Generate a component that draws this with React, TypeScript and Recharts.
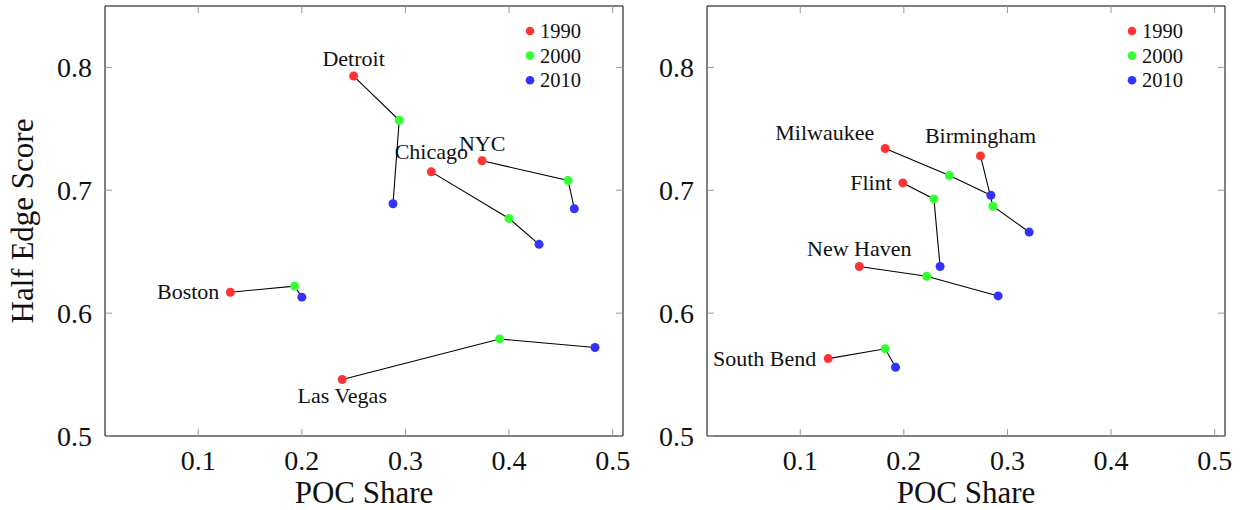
import { ScatterChart, Scatter, XAxis, YAxis, Label } from 'recharts'

const FONT = '"Liberation Serif", "Times New Roman", serif'

const YEARS = ['1990', '2000', '2010']
const YEAR_COLORS = ['#ff3333', '#33ff33', '#3333ff']

const X_TICKS = [0.1, 0.2, 0.3, 0.4, 0.5]
const Y_TICKS = [0.5, 0.6, 0.7, 0.8]

// left panel: large cities
const LEFT_CITIES = ['Detroit', 'Chicago', 'NYC', 'Boston', 'Las Vegas']
const LEFT_POC_1990 = [0.25, 0.325, 0.374, 0.131, 0.239]
const LEFT_POC_2000 = [0.294, 0.4, 0.457, 0.193, 0.391]
const LEFT_POC_2010 = [0.288, 0.429, 0.463, 0.2, 0.483]
const LEFT_SCORE_1990 = [0.793, 0.715, 0.724, 0.617, 0.546]
const LEFT_SCORE_2000 = [0.757, 0.677, 0.708, 0.622, 0.579]
const LEFT_SCORE_2010 = [0.689, 0.656, 0.685, 0.613, 0.572]

// right panel: smaller cities
const RIGHT_CITIES = ['Milwaukee', 'Birmingham', 'Flint', 'New Haven', 'South Bend']
const RIGHT_POC_1990 = [0.182, 0.274, 0.199, 0.157, 0.127]
const RIGHT_POC_2000 = [0.244, 0.286, 0.229, 0.222, 0.182]
const RIGHT_POC_2010 = [0.284, 0.321, 0.235, 0.291, 0.192]
const RIGHT_SCORE_1990 = [0.734, 0.728, 0.706, 0.638, 0.563]
const RIGHT_SCORE_2000 = [0.712, 0.687, 0.693, 0.63, 0.571]
const RIGHT_SCORE_2010 = [0.696, 0.666, 0.638, 0.614, 0.556]

// where each city name sits relative to its 1990 dot
const LABEL_POS: Record<string, { dx: number; dy: number; anchor: 'start' | 'middle' | 'end' }> = {
  Detroit: { dx: 0, dy: -10, anchor: 'middle' },
  Chicago: { dx: 0, dy: -13, anchor: 'middle' },
  NYC: { dx: 0, dy: -10, anchor: 'middle' },
  Boston: { dx: -11, dy: 7, anchor: 'end' },
  'Las Vegas': { dx: 0, dy: 24, anchor: 'middle' },
  Milwaukee: { dx: -11, dy: -9, anchor: 'end' },
  Birmingham: { dx: 0, dy: -13, anchor: 'middle' },
  Flint: { dx: -11, dy: 7, anchor: 'end' },
  'New Haven': { dx: 0, dy: -10, anchor: 'middle' },
  'South Bend': { dx: -12, dy: 7, anchor: 'end' },
}

type Pt = { city: string; poc: number; score: number }

function makeDot(color: string, withLabel: boolean) {
  return (props: any) => {
    const { cx, cy, payload } = props
    const pos = LABEL_POS[payload.city]
    return (
      <g>
        <circle cx={cx} cy={cy} r={4.5} fill={color} />
        {withLabel && pos && (
          <text
            x={cx + pos.dx}
            y={cy + pos.dy}
            textAnchor={pos.anchor}
            fontSize={22}
            fontFamily={FONT}
            fill="#111"
          >
            {payload.city}
          </text>
        )}
      </g>
    )
  }
}

function YearLegend({ left }: { left: number }) {
  return (
    <svg width={80} height={90} style={{ position: 'absolute', left, top: 16 }}>
      {YEARS.map((y, i) => (
        <g key={y}>
          <circle cx={8} cy={15 + i * 24.6} r={4.3} fill={YEAR_COLORS[i]} />
          <text x={18} y={22 + i * 24.6} fontSize={20.5} fontFamily={FONT} fill="#111">
            {y}
          </text>
        </g>
      ))}
    </svg>
  )
}

const noLabel = () => <g />

interface PanelProps {
  cities: string[]
  poc: number[][]
  score: number[][]
  width: number
  yAxisWidth: number
  marginRight: number
  showYTitle: boolean
}

function Panel({ cities, poc, score, width, yAxisWidth, marginRight, showYTitle }: PanelProps) {
  const byYear: Pt[][] = YEARS.map((_, k) =>
    cities.map((c, i) => ({ city: c, poc: poc[k][i], score: score[k][i] }))
  )
  const paths: Pt[][] = cities.map((c, i) =>
    YEARS.map((_, k) => ({ city: c, poc: poc[k][i], score: score[k][i] }))
  )
  const tickStyle = { fill: '#111', fontSize: 28, fontFamily: FONT }

  return (
    <ScatterChart width={width} height={510} margin={{ top: 5, right: marginRight - 1, bottom: 0, left: 0 }}>
      <XAxis
        type="number"
        dataKey="poc"
        domain={[0.01, 0.51]}
        ticks={X_TICKS}
        allowDataOverflow
        height={74}
        tickSize={-7}
        tickMargin={21}
        tick={tickStyle}
        tickLine={{ stroke: '#999' }}
        axisLine={{ stroke: '#000' }}
        tickFormatter={(v: number) => v.toFixed(1)}
      >
        <Label value="POC Share" position="insideBottom" offset={7} fontSize={31} fontFamily={FONT} fill="#111" />
      </XAxis>
      <XAxis
        xAxisId="top"
        orientation="top"
        type="number"
        dataKey="poc"
        domain={[0.01, 0.51]}
        ticks={X_TICKS}
        allowDataOverflow
        height={1}
        tickSize={-7}
        tick={noLabel}
        tickLine={{ stroke: '#999' }}
        axisLine={{ stroke: '#000' }}
      />
      <YAxis
        type="number"
        dataKey="score"
        domain={[0.5, 0.85]}
        ticks={Y_TICKS}
        allowDataOverflow
        width={yAxisWidth}
        tickSize={-7}
        tickMargin={20}
        tick={tickStyle}
        tickLine={{ stroke: '#999' }}
        axisLine={{ stroke: '#000' }}
        tickFormatter={(v: number) => v.toFixed(1)}
      >
        {showYTitle && (
          <Label
            content={(p: any) => {
              const vb = p.viewBox || { x: 0, y: 6, height: 430 }
              const cx = vb.x + 22
              const cy = vb.y + vb.height / 2
              return (
                <text
                  x={cx}
                  y={cy}
                  transform={`rotate(-90, ${cx}, ${cy})`}
                  textAnchor="middle"
                  dominantBaseline="central"
                  fontSize={31}
                  fontFamily={FONT}
                  fill="#111"
                >
                  Half Edge Score
                </text>
              )
            }}
          />
        )}
      </YAxis>
      <YAxis
        yAxisId="right"
        orientation="right"
        type="number"
        dataKey="score"
        domain={[0.5, 0.85]}
        ticks={Y_TICKS}
        allowDataOverflow
        width={1}
        tickSize={-7}
        tick={noLabel}
        tickLine={{ stroke: '#999' }}
        axisLine={{ stroke: '#000' }}
      />
      {/* connecting lines go on the mirrored axes (same domains) so those axes get drawn */}
      {paths.map((d) => (
        <Scatter
          key={'line-' + d[0].city}
          data={d}
          xAxisId="top"
          yAxisId="right"
          line={{ stroke: '#000', strokeWidth: 1.1 }}
          shape={() => <g />}
          isAnimationActive={false}
        />
      ))}
      {byYear.map((d, k) => (
        <Scatter
          key={YEARS[k]}
          name={YEARS[k]}
          data={d}
          fill={YEAR_COLORS[k]}
          shape={makeDot(YEAR_COLORS[k], k === 0)}
          isAnimationActive={false}
        />
      ))}
    </ScatterChart>
  )
}

export default function App() {
  return (
    <div style={{ position: 'absolute', left: 0, top: 0, width: 1240, height: 510, background: '#fff' }}>
      <div style={{ position: 'absolute', left: 0, top: 0 }}>
        <Panel
          cities={LEFT_CITIES}
          poc={[LEFT_POC_1990, LEFT_POC_2000, LEFT_POC_2010]}
          score={[LEFT_SCORE_1990, LEFT_SCORE_2000, LEFT_SCORE_2010]}
          width={640}
          yAxisWidth={105}
          marginRight={17}
          showYTitle
        />
      </div>
      <div style={{ position: 'absolute', left: 620, top: 0 }}>
        <Panel
          cities={RIGHT_CITIES}
          poc={[RIGHT_POC_1990, RIGHT_POC_2000, RIGHT_POC_2010]}
          score={[RIGHT_SCORE_1990, RIGHT_SCORE_2000, RIGHT_SCORE_2010]}
          width={620}
          yAxisWidth={87}
          marginRight={15}
          showYTitle={false}
        />
      </div>
      <YearLegend left={522} />
      <YearLegend left={1124} />
    </div>
  )
}
